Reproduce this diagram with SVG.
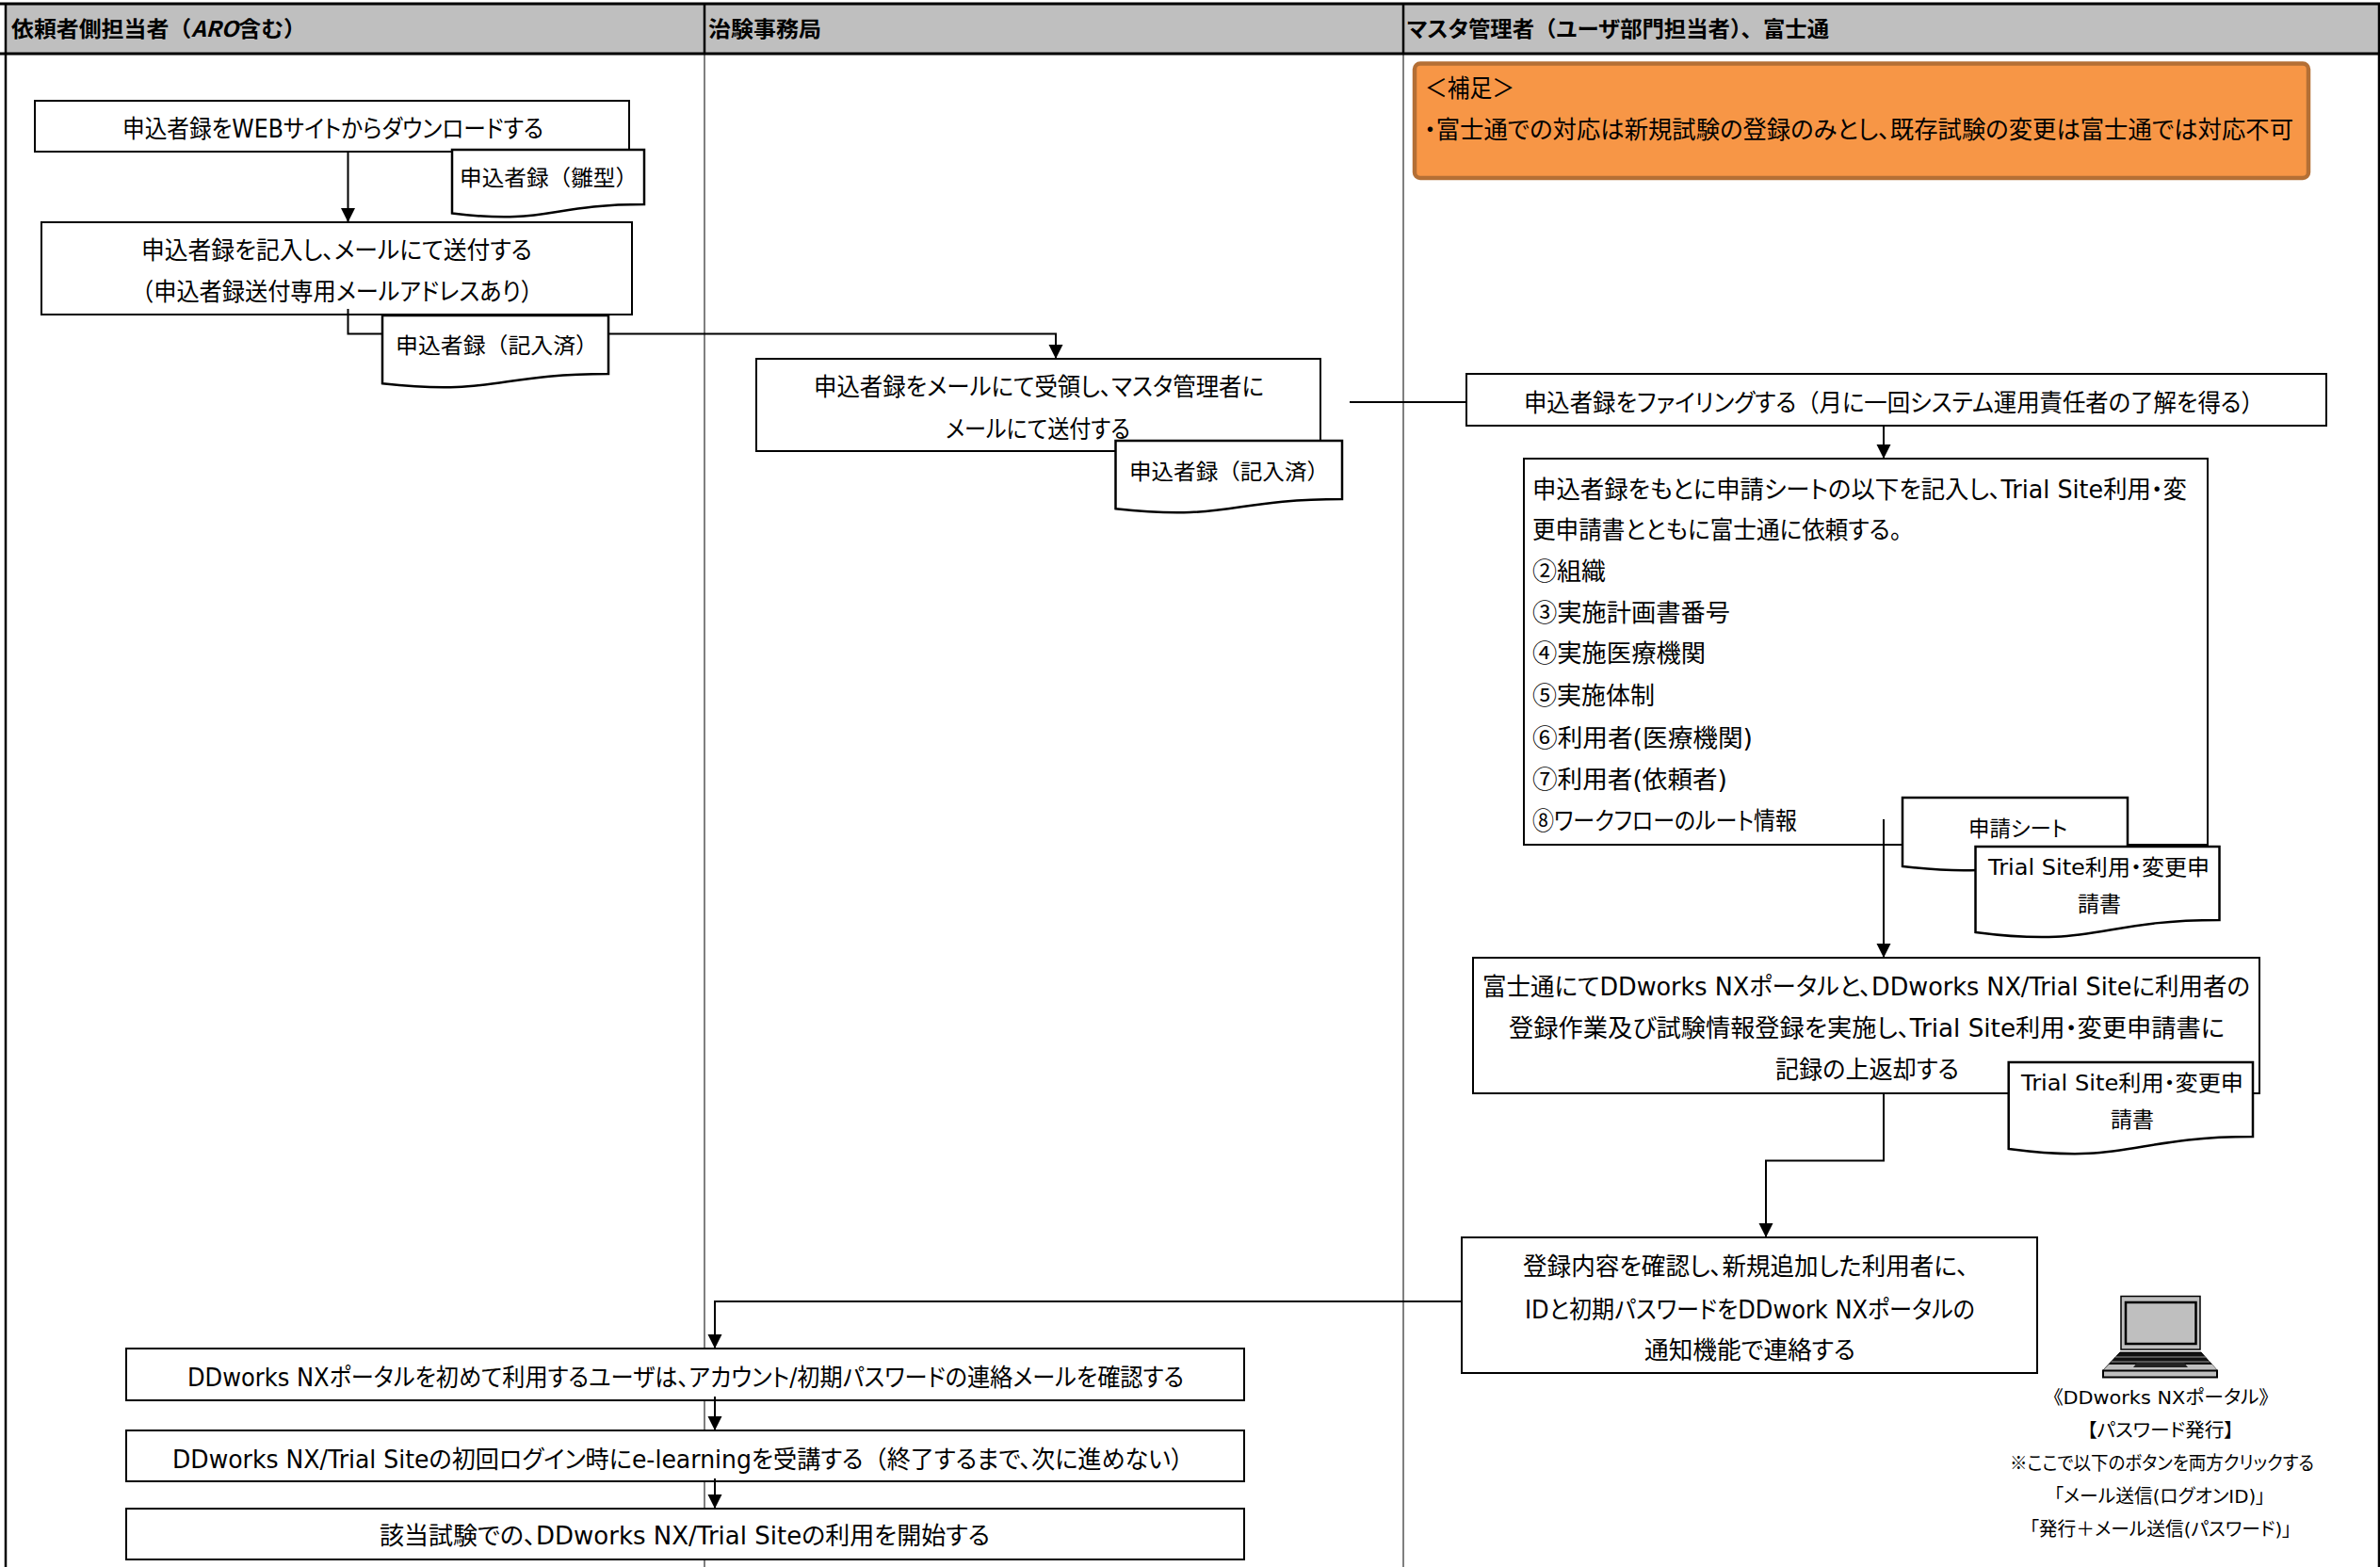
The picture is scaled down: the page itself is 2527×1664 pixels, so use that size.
<svg xmlns="http://www.w3.org/2000/svg" width="2527" height="1664" viewBox="0 0 2527 1664">
<defs>
<style>
text{font-family:"DejaVu Sans","Noto Sans CJK JP",sans-serif;font-size:26px;fill:#000;font-feature-settings:"palt";}
.h{font-family:"Noto Sans CJK JP",sans-serif;font-size:23px;font-weight:700;}
.d{font-size:23px;}
.s{font-size:20px;}
.n{font-family:"Noto Sans CJK JP",sans-serif;}
.f{font-family:"Noto Sans CJK JP",sans-serif;font-feature-settings:normal;}
.b{fill:#fff;stroke:#000;stroke-width:2;}
.doc{fill:#fff;stroke:#000;stroke-width:2.5;}
.c{fill:none;stroke:#000;stroke-width:2;}
.a{marker-end:url(#arrow);}
.div{stroke:#555;stroke-width:1.5;}
</style>
<marker id="arrow" markerUnits="userSpaceOnUse" markerWidth="16" markerHeight="16" refX="15" refY="8" orient="auto"><path d="M0,0.5 L15,8 L0,15.5 Z" fill="#000"/></marker>
</defs>
<rect width="2527" height="1664" fill="#fff"/>
<g id="lanes">
<rect x="6" y="4" width="2520" height="53" fill="#bfbfbf"/>
<path class="div" d="M748,57V1664M1490,57V1664"/>
<path d="M748,4V57M1490,4V57" stroke="#000" stroke-width="2.5"/>
<path d="M0,4H2527M0,57H2527" stroke="#000" stroke-width="3"/>
<path d="M6,4V1664M2526,4V1664" stroke="#000" stroke-width="2.5"/>
<text class="h" x="12" y="39" textLength="313" lengthAdjust="spacingAndGlyphs">依頼者側担当者<tspan class="f">（</tspan><tspan font-style="italic">ARO</tspan>含む<tspan class="f">）</tspan></text>
<text class="h" x="752" y="39" textLength="120" lengthAdjust="spacingAndGlyphs">治験事務局</text>
<text class="h" x="1494" y="39" textLength="448" lengthAdjust="spacingAndGlyphs">マスタ管理者<tspan class="f">（</tspan>ユーザ部門担当者<tspan class="f">）、</tspan>富士通</text>
</g>
<g id="note">
<rect x="1502" y="67.500" width="949" height="121.500" rx="6" fill="#f79646" stroke="#b46f35" stroke-width="4.500"/>
<text x="1513" y="103" textLength="95" lengthAdjust="spacingAndGlyphs">＜補足＞</text>
<text x="1512" y="147" textLength="923" lengthAdjust="spacingAndGlyphs">・富士通での対応は新規試験の登録のみとし、既存試験の変更は富士通では対応不可</text>
</g>
<g id="box1"><rect class="b" x="37" y="107" width="631" height="54"/>
<text x="130" y="146" textLength="447" lengthAdjust="spacingAndGlyphs">申込者録をWEBサイトからダウンロードする</text></g>
<g id="box2"><rect class="b" x="44" y="236" width="627" height="98"/>
<text x="150" y="275" textLength="415" lengthAdjust="spacingAndGlyphs">申込者録を記入し、メールにて送付する</text>
<text x="139" y="319" textLength="438" lengthAdjust="spacingAndGlyphs"><tspan class="f">（</tspan>申込者録送付専用メールアドレスあり<tspan class="f">）</tspan></text></g>
<g id="box3"><rect class="b" x="803" y="381" width="599" height="98"/>
<text x="864" y="420" textLength="478" lengthAdjust="spacingAndGlyphs">申込者録をメールにて受領し、マスタ管理者に</text>
<text x="1004" y="465" textLength="196" lengthAdjust="spacingAndGlyphs">メールにて送付する</text></g>
<g id="box4"><rect class="b" x="1557" y="397" width="913" height="55"/>
<text x="1618" y="437" textLength="786" lengthAdjust="spacingAndGlyphs">申込者録をファイリングする<tspan class="f">（</tspan>月に一回システム運用責任者の了解を得る<tspan class="f">）</tspan></text></g>
<g id="box5"><rect class="b" x="1618" y="487" width="726" height="410"/>
<text x="1627" y="529" textLength="695" lengthAdjust="spacingAndGlyphs">申込者録をもとに申請シートの以下を記入し、Trial Site利用・変</text>
<text x="1627" y="572" textLength="392" lengthAdjust="spacingAndGlyphs">更申請書とともに富士通に依頼する。</text>
<text x="1627" y="616" textLength="78" lengthAdjust="spacingAndGlyphs"><tspan class="n">②</tspan>組織</text>
<text x="1627" y="660" textLength="210" lengthAdjust="spacingAndGlyphs"><tspan class="n">③</tspan>実施計画書番号</text>
<text x="1627" y="703" textLength="184" lengthAdjust="spacingAndGlyphs"><tspan class="n">④</tspan>実施医療機関</text>
<text x="1627" y="748" textLength="130" lengthAdjust="spacingAndGlyphs"><tspan class="n">⑤</tspan>実施体制</text>
<text x="1627" y="793" textLength="234" lengthAdjust="spacingAndGlyphs"><tspan class="n">⑥</tspan>利用者(医療機関)</text>
<text x="1627" y="837" textLength="207" lengthAdjust="spacingAndGlyphs"><tspan class="n">⑦</tspan>利用者(依頼者)</text>
<text x="1627" y="881" textLength="281" lengthAdjust="spacingAndGlyphs"><tspan class="n">⑧</tspan>ワークフローのルート情報</text></g>
<g id="box6"><rect class="b" x="1564" y="1017" width="835" height="144"/>
<text x="1574" y="1057" textLength="815" lengthAdjust="spacingAndGlyphs">富士通にてDDworks NXポータルと、DDworks NX/Trial Siteに利用者の</text>
<text x="1602" y="1101" textLength="760" lengthAdjust="spacingAndGlyphs">登録作業及び試験情報登録を実施し、Trial Site利用・変更申請書に</text>
<text x="1885" y="1145" textLength="195" lengthAdjust="spacingAndGlyphs">記録の上返却する</text></g>
<g id="box7"><rect class="b" x="1552" y="1314" width="611" height="144"/>
<text x="1617" y="1354" textLength="473" lengthAdjust="spacingAndGlyphs">登録内容を確認し、新規追加した利用者に、</text>
<text x="1619" y="1400" textLength="478" lengthAdjust="spacingAndGlyphs">IDと初期パスワードをDDwork NXポータルの</text>
<text x="1746" y="1443" textLength="224" lengthAdjust="spacingAndGlyphs">通知機能で連絡する</text></g>
<g id="box8"><rect class="b" x="134" y="1432" width="1187" height="55"/>
<text x="199" y="1472" textLength="1058" lengthAdjust="spacingAndGlyphs">DDworks NXポータルを初めて利用するユーザは、アカウント/初期パスワードの連絡メールを確認する</text></g>
<g id="box9"><rect class="b" x="134" y="1519" width="1187" height="54"/>
<text x="183" y="1559" textLength="1085" lengthAdjust="spacingAndGlyphs">DDworks NX/Trial Siteの初回ログイン時にe-learningを受講する<tspan class="f">（</tspan>終了するまで、次に進めない<tspan class="f">）</tspan></text></g>
<g id="box10"><rect class="b" x="134" y="1602" width="1187" height="54"/>
<text x="403" y="1640" textLength="648" lengthAdjust="spacingAndGlyphs">該当試験での、DDworks NX/Trial Siteの利用を開始する</text></g>
<g id="connectors">
<path class="c a" d="M369.500,160V236"/>
<path class="c a" d="M369.500,328V354.500H1121V381"/>
<path class="c" d="M1433,427H1557"/>
<path class="c a" d="M2000,452V487"/>
<path class="c a" d="M2000,870V1017"/>
<path class="c a" d="M2000,1161V1232.500H1875V1314"/>
<path class="c a" d="M1552,1382H759V1432"/>
<path class="c a" d="M759,1483V1519"/>
<path class="c a" d="M759,1570V1602"/>
</g>
<g id="doc1"><path class="doc" d="M480,159H684V217C582,217 582,239 480,226.500Z"/>
<text class="d" x="488" y="197" textLength="189" lengthAdjust="spacingAndGlyphs">申込者録<tspan class="f">（</tspan>雛型<tspan class="f">）</tspan></text></g>
<g id="doc2"><path class="doc" d="M406,335H646V397C526,397 526,420.600 406,407.200Z"/>
<text class="d" x="420" y="375" textLength="215" lengthAdjust="spacingAndGlyphs">申込者録<tspan class="f">（</tspan>記入済<tspan class="f">）</tspan></text></g>
<g id="doc3"><path class="doc" d="M1184.500,468H1425V530C1305,530 1305,553.600 1184.500,540.200Z"/>
<text class="d" x="1199" y="509" textLength="212" lengthAdjust="spacingAndGlyphs">申込者録<tspan class="f">（</tspan>記入済<tspan class="f">）</tspan></text></g>
<g id="doc4"><path class="doc" d="M2020,847H2259V909.700C2140,909.700 2140,933.600 2020,920Z"/>
<text class="d" x="2090" y="888" textLength="105" lengthAdjust="spacingAndGlyphs">申請シート</text></g>
<g id="doc5"><path class="doc" d="M2097.500,899H2356.500V977C2227,977 2227,1006.800 2097.500,989.900Z"/>
<text class="d" x="2111" y="929" textLength="235" lengthAdjust="spacingAndGlyphs">Trial Site利用・変更申</text>
<text class="d" x="2206" y="968" textLength="46" lengthAdjust="spacingAndGlyphs">請書</text></g>
<g id="doc6"><path class="doc" d="M2132.700,1128H2392V1207C2262,1207 2262,1237 2132.700,1220Z"/>
<text class="d" x="2146" y="1158" textLength="236" lengthAdjust="spacingAndGlyphs">Trial Site利用・変更申</text>
<text class="d" x="2241" y="1197" textLength="46" lengthAdjust="spacingAndGlyphs">請書</text></g>
<g id="laptop">
<rect x="2252" y="1376.500" width="84" height="56.500" fill="#bfbfbf" stroke="#000" stroke-width="1.500"/>
<rect x="2257" y="1383" width="74.500" height="44" fill="#bfbfbf" stroke="#000" stroke-width="2.500"/>
<path d="M2251,1436H2337L2354,1455H2233Z" fill="#111" stroke="#000"/>
<path d="M2246,1441H2342M2241.500,1446H2346.500" stroke="#999" stroke-width="1.200"/>
<path d="M2239,1449H2349L2354,1455H2233Z" fill="#bfbfbf"/>
<path d="M2269,1447H2319L2323,1452H2265Z" fill="#222"/>
<rect x="2233" y="1455.500" width="121" height="7" fill="#bfbfbf" stroke="#000" stroke-width="2"/>
<text class="s" x="2180" y="1491" textLength="229" lengthAdjust="spacingAndGlyphs"><tspan class="n">《</tspan>DDworks NXポータル<tspan class="n">》</tspan></text>
<text class="s" x="2216" y="1526" textLength="156" lengthAdjust="spacingAndGlyphs">【パスワード発行】</text>
<text class="s" x="2134" y="1561" textLength="323" lengthAdjust="spacingAndGlyphs"><tspan class="n">※</tspan>ここで以下のボタンを両方クリックする</text>
<text class="s" x="2181" y="1596" textLength="224" lengthAdjust="spacingAndGlyphs">「メール送信(ログオンID)」</text>
<text class="s" x="2155" y="1631" textLength="278" lengthAdjust="spacingAndGlyphs">「発行＋メール送信(パスワード)」</text>
</g>
</svg>
